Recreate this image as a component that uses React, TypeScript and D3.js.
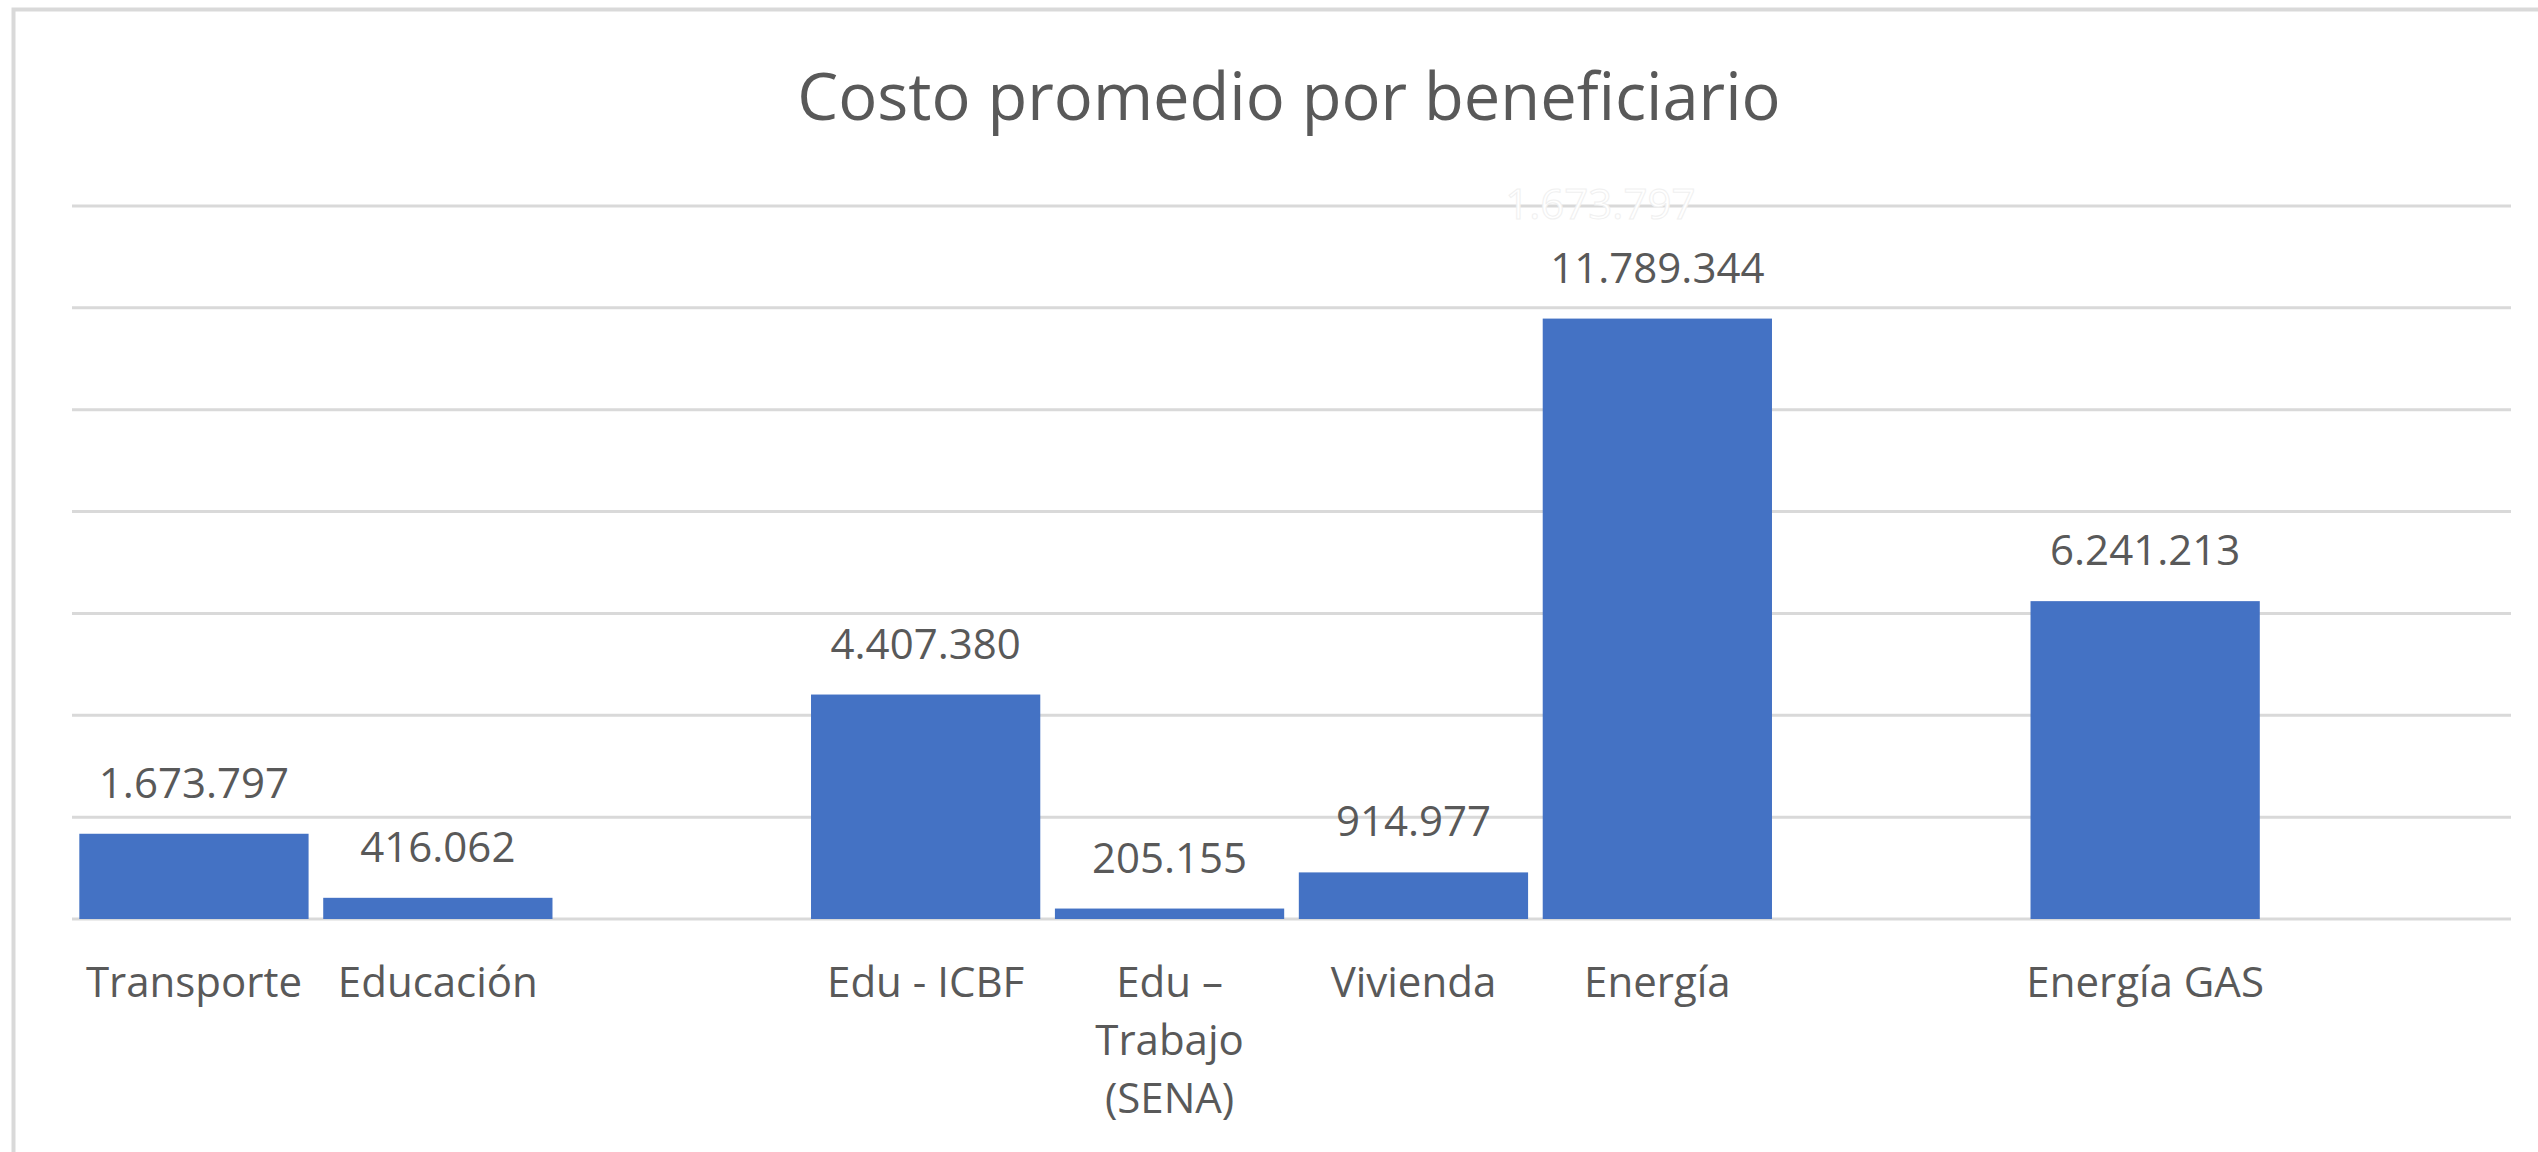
import React, { useEffect, useRef } from "react";
import * as d3 from "d3";

const title = "Costo promedio por beneficiario";
const categories = [
  "Transporte",
  "Educación",
  "",
  "Edu - ICBF",
  "Edu – Trabajo (SENA)",
  "Vivienda",
  "Energía",
  "",
  "Energía GAS",
  "",
];
const values: (number | null)[] = [
  1673797, 416062, null, 4407380, 205155, 914977, 11789344, null, 6241213, null,
];
const gridTicks = [0, 2000000, 4000000, 6000000, 8000000, 10000000, 12000000, 14000000];
// faint stray label visible near the top gridline in the original
const ghostLabel = { value: 1673797, slot: 6 };

const W = 2538;
const H = 1152;
const FONT = "'Open Sans', 'Noto Sans', sans-serif";
const TEXT = "#595959";
const BAR = "#4472C4";
const GRID = "#d9d9d9";

export default function App() {
  const ref = useRef<SVGSVGElement | null>(null);

  useEffect(() => {
    const svg = d3.select(ref.current);
    svg.selectAll("*").remove();

    const locale = d3.formatLocale({
      decimal: ",",
      thousands: ".",
      grouping: [3],
      currency: ["$", ""],
    });
    const fmt = locale.format(",d");

    const x = d3
      .scaleBand<number>()
      .domain(categories.map((_, i) => i))
      .range([72, 2511])
      .paddingInner(0.06)
      .paddingOuter(0.03);
    const y = d3.scaleLinear().domain([0, 14000000]).range([919, 206]);

    // chart border
    svg
      .append("rect")
      .attr("x", 13.5)
      .attr("y", 9.5)
      .attr("width", 3000)
      .attr("height", 2000)
      .attr("fill", "#ffffff")
      .attr("stroke", GRID)
      .attr("stroke-width", 4);

    // title
    svg
      .append("text")
      .attr("x", 1289)
      .attr("y", 120)
      .attr("text-anchor", "middle")
      .attr("font-family", FONT)
      .attr("font-size", 65)
      .attr("fill", TEXT)
      .text(title);

    // gridlines
    svg
      .append("g")
      .selectAll("line")
      .data(gridTicks)
      .join("line")
      .attr("x1", 72)
      .attr("x2", 2511)
      .attr("y1", (d) => y(d))
      .attr("y2", (d) => y(d))
      .attr("stroke", GRID)
      .attr("stroke-width", 3);

    // ghost label
    svg
      .append("text")
      .attr("x", (x(ghostLabel.slot) as number) + x.bandwidth() / 2 - 57)
      .attr("y", 219)
      .attr("text-anchor", "middle")
      .attr("font-family", FONT)
      .attr("font-size", 42)
      .attr("fill", "#ffffff")
      .attr("stroke", "#f0f0f0")
      .attr("stroke-width", 1)
      .text(fmt(ghostLabel.value));

    const data = values
      .map((v, i) => ({ i, v }))
      .filter((d) => d.v !== null) as { i: number; v: number }[];

    // bars
    svg
      .append("g")
      .selectAll("rect")
      .data(data)
      .join("rect")
      .attr("x", (d) => x(d.i) as number)
      .attr("width", x.bandwidth())
      .attr("y", (d) => y(d.v))
      .attr("height", (d) => y(0) - y(d.v))
      .attr("fill", BAR);

    // value labels
    svg
      .append("g")
      .selectAll("text")
      .data(data)
      .join("text")
      .attr("x", (d) => (x(d.i) as number) + x.bandwidth() / 2)
      .attr("y", (d) => y(d.v) - 36)
      .attr("text-anchor", "middle")
      .attr("font-family", FONT)
      .attr("font-size", 42)
      .attr("fill", TEXT)
      .text((d) => fmt(d.v));

    // category labels with wrapping
    const maxW = 258;
    const catG = svg.append("g");
    categories.forEach((c, i) => {
      if (!c) return;
      const cx = (x(i) as number) + x.bandwidth() / 2;
      const t = catG
        .append("text")
        .attr("text-anchor", "middle")
        .attr("font-family", FONT)
        .attr("font-size", 42)
        .attr("fill", TEXT);
      const words = c.split(" ");
      const lines: string[] = [];
      let cur = "";
      const probe = t.append("tspan");
      words.forEach((w) => {
        const test = cur ? cur + " " + w : w;
        probe.text(test);
        const len = (probe.node() as SVGTSpanElement).getComputedTextLength();
        if (len > maxW && cur) {
          lines.push(cur);
          cur = w;
        } else {
          cur = test;
        }
      });
      if (cur) lines.push(cur);
      probe.remove();
      lines.forEach((ln, k) => {
        t.append("tspan")
          .attr("x", cx)
          .attr("y", 997 + k * 58)
          .text(ln);
      });
    });
  }, []);

  return (
    <svg
      ref={ref}
      width={W}
      height={H}
      style={{ position: "absolute", left: 0, top: 0, background: "#ffffff" }}
    />
  );
}
